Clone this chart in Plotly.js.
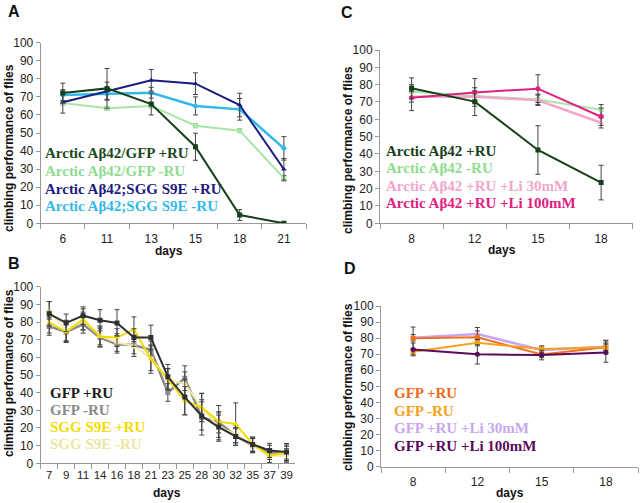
<!DOCTYPE html>
<html><head><meta charset="utf-8">
<script src="https://cdn.plot.ly/plotly-3.0.1.min.js"></script>
<style>html,body{margin:0;padding:0;background:#fff}#chart{width:642px;height:503px}</style>
</head><body><div id="chart"></div>
<script>
// Panel A
const daysA = ['6','11','13','15','18','21'];
const aGfpRu = [72.1, 74.7, 66, 42.4, 4.6, 0];
const aGfpRuErr = [5.5, 11, 6, 7.5, 3, 0.5];
const aGfpNoRu = [66.6, 63.7, 65, 54, 51.3, 25];
const aGfpNoRuErr = [1, 1, 1, 1, 1, 1.5];
const aSggRu = [67, 73.2, 79.2, 77.3, 65.5, 29.9];
const aSggRuErr = [6, 5, 6, 6, 6.5, 6];
const aSggNoRu = [71, 71.6, 72.3, 65, 63.1, 41.5];
const aSggNoRuErr = [3, 3, 3, 5, 6, 6.5];
// Panel C
const daysC = ['8','12','15','18'];
const cRu = [77.9, 70.2, 42.3, 23.5];
const cRuErr = [6, 8, 14, 10];
const cNoRu = [76, 73.5, 71.5, 65.5];
const cNoRuErr = [3, 3, 3, 3];
const cLi30 = [73, 73, 71, 58];
const cLi30Err = [3, 3, 3, 3];
const cLi100 = [72.5, 75.5, 77.7, 61.5];
const cLi100Err = [7.5, 8, 8, 5];
// Panel B
const daysB = ['7','9','11','14','16','18','21','23','25','28','30','32','35','37','39'];
const bGfpRu = [84.6, 79.5, 83.6, 81, 79.5, 71.2, 71.2, 49, 37.5, 26.8, 20.5, 15.2, 10.7, 7.3, 6.4];
const bGfpRuErr = [7, 5, 5, 6, 7.5, 5, 7, 7, 10, 8, 8, 5, 4, 4, 4];
const bGfpNoRu = [77.5, 74.4, 78.7, 71.2, 67.4, 67, 64.2, 40.1, 48.2, 26, 23.2, 15.6, 10, 6.2, 5.6];
const bGfpNoRuErr = [5, 5, 5, 5, 5, 5, 5, 5, 7, 10, 6, 4, 4, 4, 4];
const bSggRu = [79.8, 74.4, 81.5, 71.8, 71.2, 75.9, 59, 47.6, 35.4, 31.6, 23.7, 22.2, 10.9, 4.3, 6.2];
const bSggRuErr = [6, 6, 6, 6, 5, 7, 8, 6, 8, 8, 9, 12, 4, 4, 5];
const bSggNoRu = [86.6, 75, 80.6, 72.1, 68.4, 66.5, 59.5, 47.6, 44.8, 31.6, 20.3, 16.6, 10, 4.3, 4.3];
const bSggNoRuErr = [5, 6, 5, 5, 5, 6, 7, 6, 7, 8, 7, 5, 4, 4, 4];
// Panel D
const daysD = ['8','12','15','18'];
const dRu = [79.9, 80.5, 69.9, 74.3];
const dRuErr = [7, 4, 2, 4];
const dNoRu = [71.6, 77.2, 73.2, 74.3];
const dNoRuErr = [2, 2, 2, 2];
const dLi30 = [80.3, 82.6, 72.6, 74.7];
const dLi30Err = [2, 4, 2, 4];
const dLi100 = [73, 69.9, 69.5, 71];
const dLi100Err = [4, 6, 3, 6];

function tr(x, y, err, color, sym, ax, lw) {
  return {x: x, y: y, type: 'scatter', mode: 'lines+markers', xaxis: 'x' + ax, yaxis: 'y' + ax,
    line: {color: color, width: lw || 2}, marker: {color: color, symbol: sym, size: 5},
    error_y: {type: 'data', array: err, visible: true, color: '#444', thickness: 1, width: 2.5},
    showlegend: false, hoverinfo: 'skip'};
}
const data = [
  tr(daysA, aGfpNoRu, aGfpNoRuErr, '#a8e6a8', 'square', '', 2),
  tr(daysA, aSggNoRu, aSggNoRuErr, '#33b9e8', 'diamond', '', 2.5),
  tr(daysA, aSggRu, aSggRuErr, '#1c1c80', 'triangle-up', '', 2),
  tr(daysA, aGfpRu, aGfpRuErr, '#16401a', 'square', '', 2),
  tr(daysC, cNoRu, cNoRuErr, '#a8e6a8', 'square', '2', 2),
  tr(daysC, cLi30, cLi30Err, '#f2a6cc', 'triangle-up', '2', 2.5),
  tr(daysC, cLi100, cLi100Err, '#e0207f', 'circle', '2', 2),
  tr(daysC, cRu, cRuErr, '#16401a', 'square', '2', 2),
  tr(daysB, bGfpNoRu, bGfpNoRuErr, '#8a8a8a', 'square', '3', 2.5),
  tr(daysB, bSggNoRu, bSggNoRuErr, '#f2eba8', 'diamond', '3', 2),
  tr(daysB, bSggRu, bSggRuErr, '#f0dc00', 'triangle-up', '3', 2),
  tr(daysB, bGfpRu, bGfpRuErr, '#303030', 'square', '3', 2),
  tr(daysD, dLi30, dLi30Err, '#c8a6f0', 'triangle-up', '4', 2.5),
  tr(daysD, dRu, dRuErr, '#f07020', 'square', '4', 2),
  tr(daysD, dNoRu, dNoRuErr, '#f5a020', 'square', '4', 2),
  tr(daysD, dLi100, dLi100Err, '#5a0a5a', 'circle', '4', 2)
];
const W = 642, H = 503;
const px = v => v / W, py = v => 1 - v / H;
const tickFont = {family: "'Liberation Sans', Arial, sans-serif", size: 12, color: '#222'};
function xa(dom, n, anchor, fs, so) {
  return {domain: dom, anchor: anchor, type: 'category', range: [-0.5, n - 0.5], tickson: 'boundaries',
    showline: true, linecolor: '#999', linewidth: 1, ticks: 'outside', ticklen: 5, tickcolor: '#999',
    tickangle: 0, ticklabelstandoff: so,
    tickfont: Object.assign({}, tickFont, {size: fs}), showgrid: false, zeroline: false, fixedrange: true};
}
function ya(dom, anchor) {
  return {domain: dom, anchor: anchor, range: [0, 100], tick0: 0, dtick: 10,
    showline: true, linecolor: '#999', linewidth: 1, ticks: 'outside', ticklen: 4, tickcolor: '#999',
    tickfont: tickFont, showgrid: false, zeroline: false, fixedrange: true};
}
const ann = [];
function txt(x, y, t, size, color, opts) {
  ann.push(Object.assign({xref: 'paper', yref: 'paper', x: px(x), y: py(y), text: t, showarrow: false,
    font: {family: "'Liberation Sans', Arial, sans-serif", size: size, color: color}, xanchor: 'center', yanchor: 'middle'}, opts || {}));
}
// panel letters
txt(6, 12, '<b>A</b>', 16, '#111', {xanchor: 'left'});
txt(339, 13, '<b>C</b>', 16, '#111', {xanchor: 'left'});
txt(6, 263, '<b>B</b>', 16, '#111', {xanchor: 'left'});
txt(342, 268, '<b>D</b>', 16, '#111', {xanchor: 'left'});
// axis titles
const yt = '<b>climbing performance of flies</b>';
txt(9, 148, yt, 12, '#111', {textangle: -90});
txt(348, 150, yt, 12, '#111', {textangle: -90});
txt(9, 373, yt, 12, '#111', {textangle: -90});
txt(348, 387, yt, 12, '#111', {textangle: -90});
txt(169, 251, '<b>days</b>', 12, '#111');
txt(502, 250, '<b>days</b>', 12, '#111');
txt(167, 492.5, '<b>days</b>', 12, '#111');
txt(510, 493, '<b>days</b>', 12, '#111');
// legends
function leg(x, ys, labels, colors) {
  labels.forEach((l, i) => ann.push({xref: 'paper', yref: 'paper', x: px(x), y: py(ys[i]), text: '<b>' + l + '</b>',
    showarrow: false, xanchor: 'left', yanchor: 'middle',
    font: {family: "'Liberation Serif', 'Times New Roman', serif", size: 15, color: colors[i]}}));
}
leg(43, [153, 171, 189, 206], ['Arctic Aβ42/GFP +RU', 'Arctic Aβ42/GFP -RU', 'Arctic Aβ42;SGG S9E +RU', 'Arctic Aβ42;SGG S9E -RU'],
  ['#1a4a1e', '#8fdc8f', '#1c1c80', '#33b9e8']);
leg(384, [151, 168, 186, 203], ['Arctic Aβ42 +RU', 'Arctic Aβ42 -RU', 'Arctic Aβ42 +RU +Li 30mM', 'Arctic Aβ42 +RU +Li 100mM'],
  ['#16401a', '#8fdc8f', '#f2a6cc', '#e0207f']);
leg(48, [393, 410, 427, 444], ['GFP +RU', 'GFP -RU', 'SGG S9E +RU', 'SGG S9E -RU'],
  ['#1a1a1a', '#8a8a8a', '#f0dc00', '#eee6a0']);
leg(392, [393, 411, 428, 446], ['GFP +RU', 'GFP -RU', 'GFP +RU +Li 30mM', 'GFP +RU +Li 100mM'],
  ['#ee6a20', '#f5a020', '#c8a6f0', '#5a0a5a']);

const layout = {
  width: W, height: H, margin: {l: 0, r: 0, t: 0, b: 0}, autosize: false,
  paper_bgcolor: '#fff', plot_bgcolor: '#fff', showlegend: false,
  xaxis: xa([px(40.7), px(306)], 6, 'y', 12, 4),
  yaxis: ya([py(223.3), py(42.7)], 'x'),
  xaxis2: xa([px(380), px(632.7)], 4, 'y2', 12, 4),
  yaxis2: ya([py(223.3), py(50)], 'x2'),
  xaxis3: xa([px(40.7), px(295)], 15, 'y3', 11.5, 1),
  yaxis3: ya([py(463.3), py(286.7)], 'x3'),
  xaxis4: xa([px(381), px(638)], 4, 'y4', 12, 4),
  yaxis4: ya([py(466.7), py(306)], 'x4'),
  annotations: ann
};
Plotly.newPlot('chart', data, layout, {staticPlot: true, displayModeBar: false});
</script></body></html>
